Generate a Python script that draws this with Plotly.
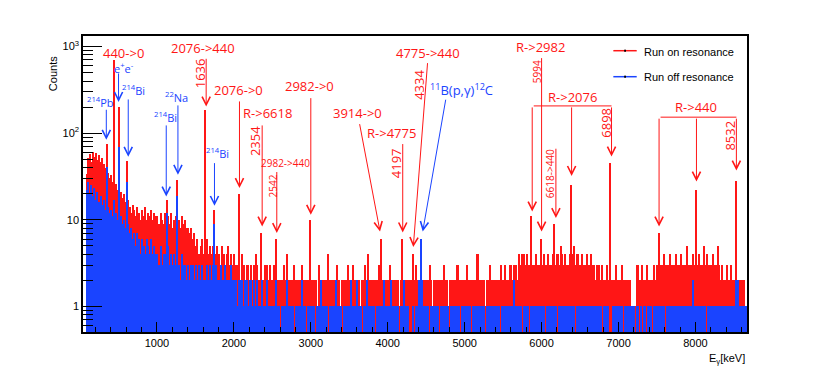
import numpy as np
import plotly.graph_objects as go

BIN_KEV = 20
SEGMENT_START_KEV = [40, 1000, 4000]

# Run on resonance (red), counts per 20 keV bin
red_low = [  # 40 - 1000 keV
    0, 0, 34, 52, 58, 47, 61, 53, 59, 49,
    56, 46, 52, 44, 40, 38, 35, 30, 33, 27,
    26, 26, 22, 24, 21, 18, 20, 16, 15, 17,
    14, 12, 15, 13, 11, 14, 12, 10, 13, 11,
    14, 10, 12, 11, 13, 10, 12, 11,
]
red_mid = [  # 1000 - 4000 keV
    11, 9, 12, 10, 9, 12, 10, 11, 9, 12, 8, 10, 11, 9, 10, 8, 11, 9, 10, 8,
    8, 7, 8, 6, 7, 5, 6, 4, 5, 6, 4, 5, 6, 4, 5,
    4, 5, 3, 4, 5, 4, 3, 5, 4, 3, 4, 5, 3, 4, 3,
    4, 3, 3, 3, 2, 4, 3, 2, 3, 3, 2, 3, 2, 3, 4, 3, 2, 3, 2, 2, 3, 3, 2, 3, 2,
    2, 3, 2, 2, 2, 2, 2, 3, 2, 4, 2, 2, 2, 2, 3, 2, 2, 2, 2, 3, 2, 2, 2, 2, 2,
    2, 2, 2, 2, 1, 3, 2, 2, 2, 2, 2, 4, 2, 2, 2, 2, 2, 3, 2, 1, 2, 2, 2, 2, 3,
    2, 2, 3, 2, 2, 2, 2, 1, 2, 2, 3, 2, 4, 2, 2, 2, 2, 2, 2, 3, 2, 2, 2, 2, 2,
]
red_high = [  # 4000 - 8680 keV
    2, 3, 2, 2, 2, 2, 2, 1, 2, 3, 2, 2, 2, 2, 2, 2, 2, 2, 3, 2, 2, 2, 2, 2, 2,
    2, 2, 3, 2, 1, 2, 2, 2, 2, 2, 2, 3, 2, 2, 1, 2, 2, 2, 2, 2, 3, 2, 2, 2, 2,
    2, 3, 2, 2, 2, 2, 2, 2, 4, 2, 2, 2, 2, 1, 2, 2, 3, 2, 2, 2, 2, 2, 2, 3, 2,
    2, 3, 2, 2, 3, 3, 2, 3, 3, 2,
    4, 3, 4, 4, 3, 4, 3, 3, 4, 3, 3, 4, 3, 3, 3,
    3, 4, 3, 3, 4, 3, 3, 4, 5, 3, 4, 3, 5, 4, 3, 4, 3, 3, 4, 3, 4, 5, 3, 4, 3,
    3, 4, 3, 3, 4, 3, 3, 4, 3, 3, 2, 3, 3, 2, 3, 2, 2, 3, 2, 2, 2, 2, 2, 3, 2,
    2, 2, 3, 2, 2, 2, 2, 2, 1, 1, 1, 1, 3, 2, 2, 3, 2, 2, 3, 2, 2, 2, 2, 3, 2,
    3, 3, 3, 3, 4, 3, 3, 3, 4, 3, 3, 3, 4, 3, 3, 4, 3, 3, 3, 5, 3, 3, 3, 4, 3,
    3, 3, 4, 3, 3, 5, 3, 4, 3, 3, 3, 4, 3, 3, 5, 3, 2, 3, 2, 2, 3, 2, 2, 3, 2,
    2, 2, 2, 2, 2, 2, 2, 1, 1,
]
red_peak_kev = [352, 440, 511, 609, 1120, 1275, 1636, 1750, 2076, 2354, 2542, 2982,
                3914, 4197, 4334, 5876, 5994, 6178, 6387, 6898, 7527, 8013, 8532]
red_peak_counts = [75, 700, 203, 48, 17, 29, 186, 13, 20, 7, 6, 10,
                   6, 6, 4, 11, 6, 9, 25, 45, 7, 22, 28]

# Run off resonance (blue), counts per 20 keV bin
blue_low = [
    0, 0, 22, 27, 20, 25, 19, 23, 17, 21,
    16, 19, 15, 17, 13, 14, 14, 12, 13, 11,
    12, 12, 10, 10, 11, 9, 10, 8, 8, 9,
    7, 8, 6, 7, 5, 7, 6, 4, 6, 5,
    4, 6, 5, 4, 6, 4, 5, 4,
]
blue_mid = [
    4, 3, 5, 3, 4, 4, 3, 5, 3, 4, 3, 4, 3, 4, 3, 2, 4, 3, 3, 2,
    3, 2, 3, 3, 2, 3, 2, 3, 2, 3, 2, 2, 3, 2, 3,
    2, 3, 2, 3, 2, 2, 3, 2, 2, 3, 2, 2, 2, 3, 2,
    2, 2, 1, 2, 2, 2, 1, 2, 2, 1, 2, 2, 1, 2, 1, 2, 1, 1, 2, 1, 1, 2, 1, 1, 1,
    1, 1, 2, 1, 1, 0, 1, 1, 1, 2, 1, 1, 1, 1, 0, 1, 1, 1, 1, 2, 1, 1, 0, 1, 1,
    1, 1, 1, 0, 1, 1, 2, 1, 1, 1, 1, 0, 1, 1, 1, 1, 2, 1, 1, 1, 0, 1, 1, 1, 1,
    1, 2, 1, 1, 1, 2, 1, 1, 0, 1, 1, 2, 1, 1, 1, 1, 1, 0, 1, 1, 1, 1, 2, 1, 1,
]
blue_high = [
    1, 1, 2, 1, 1, 1, 1, 0, 1, 1, 2, 1, 1, 1, 0, 0, 1, 0, 1, 1, 2, 2, 2, 1, 1,
    1, 1, 0, 1, 1, 1, 1, 1, 0, 1, 1, 1, 1, 1, 1, 0, 1, 1, 1, 1, 1, 1, 0, 1, 1,
    1, 1, 1, 1, 0, 1, 1, 1, 1, 1, 1, 1, 1, 0, 1, 1, 1, 1, 1, 1, 1, 1, 1, 0, 1,
    1, 1, 1, 1, 1, 1, 1, 2, 1, 1,
    1, 1, 0, 1, 1, 1, 1, 0, 1, 1, 1, 1, 1, 1, 1,
    1, 1, 0, 1, 1, 1, 1, 1, 1, 1, 0, 1, 1, 1, 1, 1, 1, 1, 1, 1, 1, 1, 0, 1, 1,
    1, 1, 1, 1, 1, 1, 1, 1, 1, 1, 1, 1, 1, 1, 0, 1, 1, 1, 1, 0, 0, 1, 1, 1, 1,
    1, 1, 1, 0, 1, 1, 1, 1, 1, 1, 1, 0, 1, 0, 1, 0, 1, 1, 0, 1, 1, 1, 0, 1, 1,
    1, 1, 1, 1, 1, 0, 1, 1, 1, 1, 1, 1, 1, 1, 1, 1, 1, 1, 1, 1, 1, 1, 1, 2, 1,
    1, 1, 1, 1, 1, 1, 1, 0, 1, 1, 1, 1, 1, 1, 1, 1, 1, 1, 1, 1, 1, 1, 1, 1, 1,
    1, 2, 2, 1, 1, 1, 1, 1, 1,
]
blue_peak_kev = [352, 440, 511, 609, 1120, 1275, 1750, 4439]
blue_peak_counts = [41, 17, 70, 27, 12, 19, 9, 6]

RED = "#ff1616"
BLUE = "#1a44ff"
LABEL_FONT = "Open Sans"
AXIS_FONT = "Liberation Sans"


def build(segments, peak_kev, peak_counts):
    centers, counts = [], []
    for start, seg in zip(SEGMENT_START_KEV, segments):
        centers += [start + BIN_KEV * (i + 0.5) for i in range(len(seg))]
        counts += list(seg)
    centers = np.array(centers)
    counts = np.array(counts, dtype=float)
    for e, c in zip(peak_kev, peak_counts):
        target = (e // BIN_KEV) * BIN_KEV + BIN_KEV / 2
        counts[np.argmin(np.abs(centers - target))] = c
    return centers, counts


red_x, red_y = build([red_low, red_mid, red_high], red_peak_kev, red_peak_counts)
blue_x, blue_y = build([blue_low, blue_mid, blue_high], blue_peak_kev, blue_peak_counts)

fig = go.Figure()
fig.add_bar(x=red_x, y=red_y, width=BIN_KEV, marker=dict(color=RED, line=dict(width=0)),
            name="Run on resonance", showlegend=False, hoverinfo="skip")
fig.add_bar(x=blue_x, y=blue_y, width=BIN_KEV, marker=dict(color=BLUE, line=dict(width=0)),
            name="Run off resonance", showlegend=False, hoverinfo="skip")

# label positions: (text, keV, log10(counts), font size, angle)
red_labels = [
    ("440->0", 569, 2.93, 13, 0),
    ("2076->440", 1601, 2.987, 13, 0),
    ("1636", 1553, 2.697, 13, -90),
    ("2076->0", 2060, 2.499, 13, 0),
    ("R->6618", 2432, 2.231, 13, 0),
    ("2354", 2277, 1.911, 13, -90),
    ("2982->440", 2677, 1.654, 10, 0),
    ("2542", 2504, 1.392, 10, -90),
    ("2982->0", 2978, 2.546, 13, 0),
    ("3914->0", 3610, 2.231, 13, 0),
    ("R->4775", 4043, 2.0, 13, 0),
    ("4197", 4108, 1.654, 13, -90),
    ("4775->440", 4523, 2.93, 13, 0),
    ("4334", 4397, 2.561, 13, -90),
    ("R->2982", 5982, 3.0, 13, 0),
    ("5994", 5943, 2.707, 10, -90),
    ("6618->440", 6101, 1.531, 10, -90),
    ("R->2076", 6403, 2.415, 13, 0),
    ("6898", 6835, 2.119, 13, -90),
    ("R->440", 8004, 2.307, 13, 0),
    ("8532", 8445, 1.969, 13, -90),
]
blue_labels = [
    ("<sup>214</sup>Pb", 264, 2.364, 11, 0),
    ("e<sup>+</sup>e<sup>-</sup>", 569, 2.755, 11, 0),
    ("<sup>214</sup>Bi", 692, 2.499, 11, 0),
    ("<sup>214</sup>Bi", 1108, 2.191, 11, 0),
    ("<sup>22</sup>Na", 1260, 2.422, 11, 0),
    ("<sup>214</sup>Bi", 1783, 1.776, 11, 0),
    ("<sup>11</sup>B(p,γ)<sup>12</sup>C", 4961, 2.508, 13, 0),
]
# arrows: (tail keV, tail log10, head keV, head log10, arrowhead)
red_arrows = [
    (1640, 2.876, 1640, 2.307, 5),
    (2073, 2.384, 2073, 1.366, 5),
    (2368, 2.107, 2368, 0.923, 5),
    (2558, 1.569, 2558, 0.847, 5),
    (3000, 2.422, 3000, 1.058, 5),
    (3631, 2.122, 3900, 0.865, 5),
    (4195, 1.892, 4195, 0.854, 5),
    (4519, 2.826, 4332, 0.685, 5),
    (6000, 2.884, 6000, 0.865, 5),
    (6186, 1.838, 6186, 1.02, 5),
    (5878, 2.315, 6909, 2.315, 0),
    (5878, 2.315, 5878, 1.096, 5),
    (6390, 2.315, 6390, 1.507, 5),
    (6909, 2.315, 6909, 1.730, 5),
    (7527, 2.185, 8532, 2.185, 0),
    (7527, 2.185, 7527, 0.923, 5),
    (8013, 2.185, 8013, 1.442, 5),
    (8532, 2.185, 8532, 1.569, 5),
]
blue_arrows = [
    (342, 2.288, 342, 1.923, 5),
    (501, 2.707, 501, 2.361, 5),
    (627, 2.407, 627, 1.727, 5),
    (1121, 2.107, 1121, 1.269, 5),
    (1273, 2.338, 1273, 1.519, 5),
    (1748, 1.672, 1748, 1.161, 5),
    (4757, 2.404, 4455, 0.865, 5),
]

annotations = []
for labels, color in ((red_labels, RED), (blue_labels, BLUE)):
    for t, x, d, size, angle in labels:
        annotations.append(dict(
            text=t, x=x, y=d, xref="x", yref="y", showarrow=False, textangle=angle,
            xanchor="center", yanchor="middle",
            font=dict(family=LABEL_FONT, size=size, color=color),
        ))
for arrows, color in ((red_arrows, RED), (blue_arrows, BLUE)):
    for x0, d0, x1, d1, head in arrows:
        annotations.append(dict(
            text="", x=x1, y=d1, ax=x0, ay=d0, xref="x", yref="y", axref="x", ayref="y",
            showarrow=True, arrowhead=head, arrowsize=1.6, arrowwidth=1, arrowcolor=color,
        ))

axis_font = dict(family=AXIS_FONT, size=11, color="black")
annotations += [
    dict(text="Counts", x=-0.057, y=0.9375, xref="paper", yref="paper", showarrow=False,
         textangle=-90, font=axis_font),
    dict(text="E<sub>γ</sub>[keV]", x=1.0, y=-0.092, xref="paper", yref="paper",
         showarrow=False, xanchor="right", yanchor="middle", font=axis_font),
    dict(text="Run on resonance", x=0.8423, y=0.947, xref="paper", yref="paper",
         showarrow=False, xanchor="left", yanchor="middle", font=axis_font),
    dict(text="Run off resonance", x=0.8423, y=0.8625, xref="paper", yref="paper",
         showarrow=False, xanchor="left", yanchor="middle", font=axis_font),
]

shapes = []
for yy, color in ((0.9503, RED), (0.8625, BLUE)):
    shapes.append(dict(type="line", xref="paper", yref="paper", x0=0.7987, x1=0.8339,
                       y0=yy, y1=yy, line=dict(color=color, width=1.5)))
    shapes.append(dict(type="rect", xref="paper", yref="paper", x0=0.8150, x1=0.8178,
                       y0=yy - 0.0035, y1=yy + 0.0035, line=dict(width=0),
                       fillcolor="black"))

minor_y = [0.6, 0.7, 0.8, 0.9] + [m * 10 ** k for k in range(3) for m in range(2, 10)]

# the page body keeps its default 8px margin, so the figure is 8px smaller
fig.update_layout(
    width=822,
    height=361,
    margin=dict(l=75, r=83, t=28, b=37),
    paper_bgcolor="white",
    plot_bgcolor="white",
    barmode="overlay",
    bargap=0,
    showlegend=False,
    annotations=annotations,
    shapes=shapes,
    font=axis_font,
)
fig.update_xaxes(
    range=[39, 8670],
    tickvals=[1000, 2000, 3000, 4000, 5000, 6000, 7000, 8000],
    ticks="inside", ticklen=10, tickwidth=1, tickcolor="black",
    minor=dict(dtick=200, tick0=0, ticks="inside", ticklen=5, tickcolor="black"),
    showline=True, linewidth=1.5, linecolor="black", mirror=True,
    showgrid=False, zeroline=False, tickfont=axis_font,
)
fig.update_yaxes(
    type="log",
    range=[-0.295, 3.122],
    tickvals=[1, 10, 100, 1000],
    ticktext=["1", "10", "10<sup>2</sup>", "10<sup>3</sup>"],
    ticks="inside", ticklen=19, tickwidth=1, tickcolor="black",
    minor=dict(tickvals=minor_y, ticks="inside", ticklen=10, tickcolor="black"),
    showline=True, linewidth=1.5, linecolor="black", mirror=True,
    showgrid=False, zeroline=False, tickfont=axis_font,
)

fig.write_html("out.html")
